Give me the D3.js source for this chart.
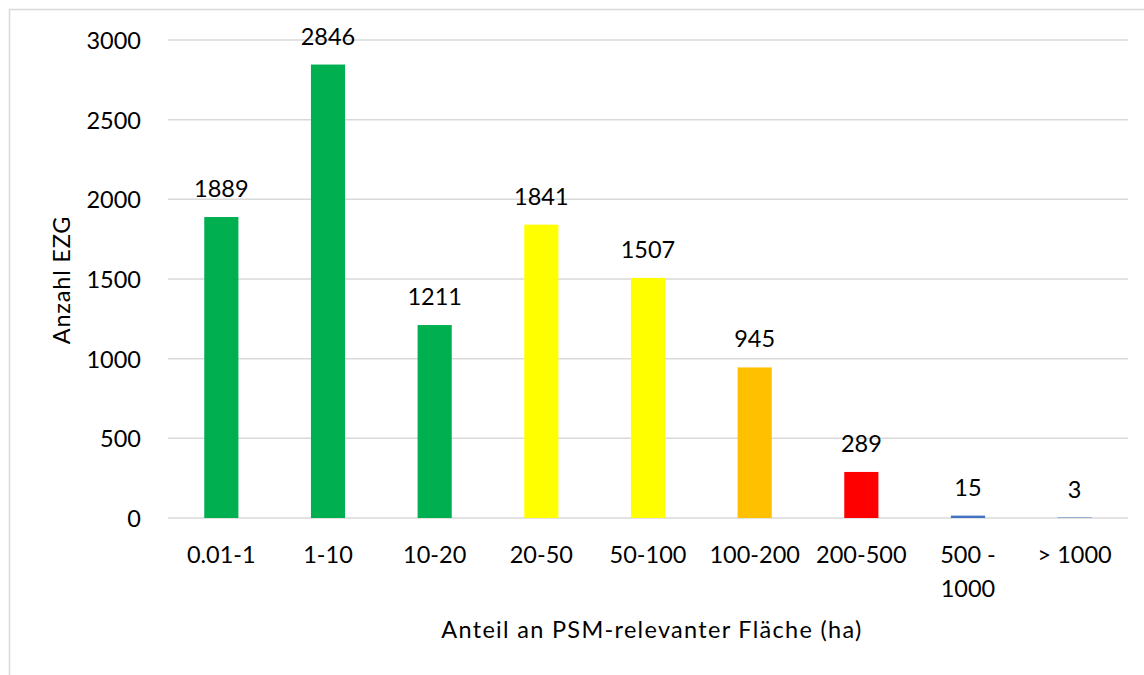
<html>
<head>
<meta charset="utf-8">
<script src="https://cdn.jsdelivr.net/npm/d3@7"></script>
<style>
  body { margin: 0; background: #fff; }
  text { font-family: Lato, "Open Sans", sans-serif; fill: #000; }
</style>
</head>
<body>
<svg></svg>
<script>
// Werte aus dem Diagramm
var categories = ["0.01-1", "1-10", "10-20", "20-50", "50-100", "100-200", "200-500", "500 - 1000", "> 1000"];
var counts = [1889, 2846, 1211, 1841, 1507, 945, 289, 15, 3];
var barColors = ["#00b050", "#00b050", "#00b050", "#ffff00", "#ffff00", "#ffc000", "#ff0000", "#4472c4", "#4472c4"];
var yTicks = [0, 500, 1000, 1500, 2000, 2500, 3000];

var W = 1144, H = 675;
var pLeft = 168, pRight = 1128, pTop = 40, pBottom = 518;
var fs = 23.5;

var svg = d3.select("svg").attr("width", W).attr("height", H);

// Rahmen
svg.append("rect")
  .attr("x", 9.5).attr("y", 9.5)
  .attr("width", W + 20).attr("height", H + 20)
  .attr("fill", "none").attr("stroke", "#d9d9d9").attr("stroke-width", 1.5);

var x = d3.scaleBand().domain(categories).range([pLeft, pRight])
  .paddingInner(0.68).paddingOuter(0.34);
var y = d3.scaleLinear().domain([0, 3000]).range([pBottom, pTop]);

// Gitterlinien
svg.selectAll(".grid")
  .data(yTicks).enter()
  .append("line").classed("grid", 1)
  .attr("x1", pLeft).attr("x2", pRight)
  .attr("y1", function(d){return y(d);}).attr("y2", function(d){return y(d);})
  .attr("stroke", "#d9d9d9").attr("stroke-width", 1.5);

// y-Achse
var yAxis = svg.append("g").attr("transform", "translate(141,0)")
  .call(d3.axisLeft(y).tickValues(yTicks).tickSize(0).tickPadding(0).tickFormat(d3.format("d")));
yAxis.select(".domain").remove();
yAxis.selectAll("text").attr("font-size", fs).attr("dy", "0.36em")
  .style("font-family", "Lato, 'Open Sans', sans-serif").attr("fill", "#000");

// Balken
var rows = categories.map(function(c, i){ return {cat: c, v: counts[i], col: barColors[i]}; });
svg.selectAll(".bar")
  .data(rows).enter()
  .append("rect").classed("bar", 1)
  .attr("x", function(d){return x(d.cat);})
  .attr("width", x.bandwidth())
  .attr("y", function(d){return y(d.v);})
  .attr("height", function(d){return pBottom - y(d.v);})
  .attr("fill", function(d){return d.col;});

// Datenbeschriftungen
svg.selectAll(".lbl")
  .data(rows).enter()
  .append("text").classed("lbl", 1)
  .attr("x", function(d){return x(d.cat) + x.bandwidth()/2;})
  .attr("y", function(d){return y(d.v) - 20;})
  .attr("text-anchor", "middle").attr("font-size", fs)
  .text(function(d){return d.v;});

// x-Achse Beschriftungen (mit Umbruch)
var xl = svg.selectAll(".xl")
  .data(categories).enter()
  .append("text").classed("xl", 1)
  .attr("x", function(d){return x(d) + x.bandwidth()/2;})
  .attr("y", 563)
  .attr("text-anchor", "middle").attr("font-size", fs);
xl.each(function(d){
  var parts = d === "500 - 1000" ? ["500 -", "1000"] : [d];
  var t = d3.select(this);
  parts.forEach(function(p, i){
    t.append("tspan").attr("x", t.attr("x")).attr("dy", i ? 34 : 0).text(p);
  });
});

// Achsentitel
svg.append("text")
  .attr("x", 652).attr("y", 638)
  .attr("text-anchor", "middle").attr("font-size", fs)
  .attr("letter-spacing", 1.3)
  .text("Anteil an PSM-relevanter Fläche (ha)");

svg.append("text")
  .attr("transform", "translate(70,280) rotate(-90)")
  .attr("text-anchor", "middle").attr("font-size", fs)
  .attr("letter-spacing", 0.8)
  .text("Anzahl EZG");
</script>
</body>
</html>
